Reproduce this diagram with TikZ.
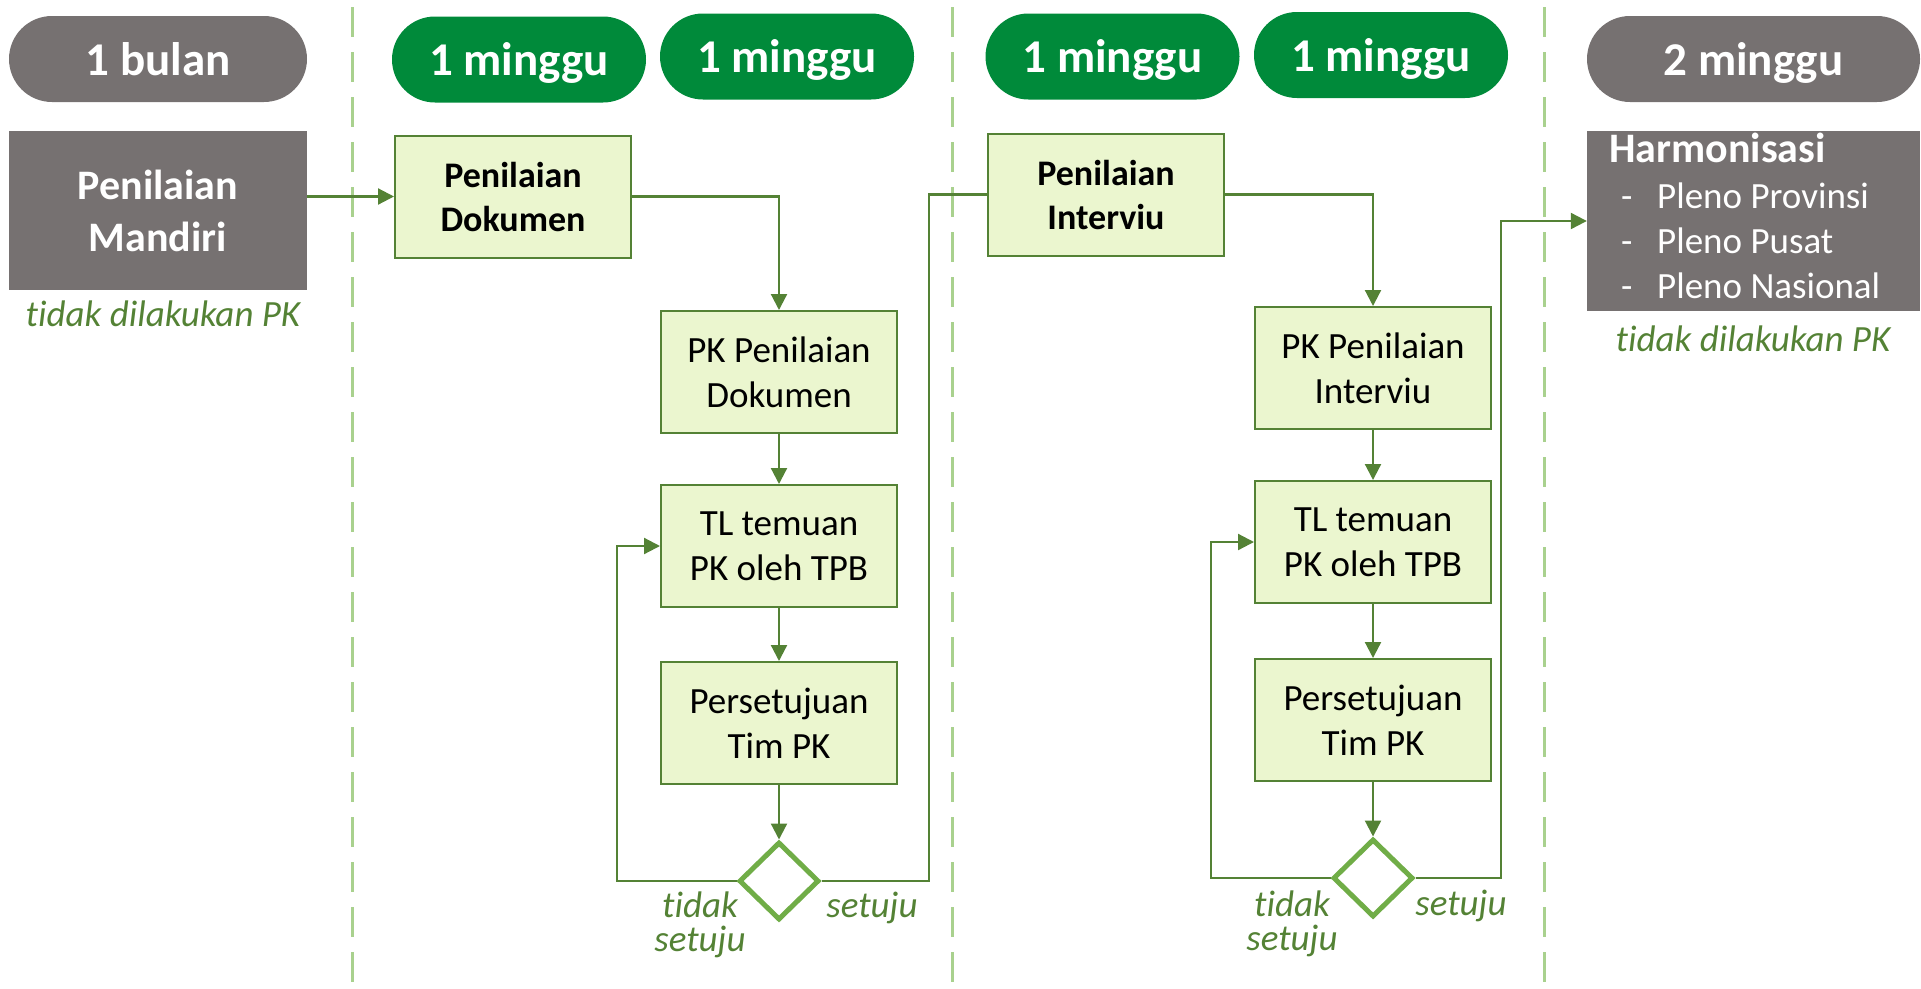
\documentclass[tikz,border=0pt]{standalone}
\usepackage{fontspec}
\setmainfont[Ligatures=NoCommon]{Carlito}
\usetikzlibrary{arrows.meta,shapes.geometric}
\definecolor{grayc}{HTML}{767171}
\definecolor{pillg}{HTML}{008A3A}
\definecolor{fillc}{HTML}{EBF6CF}
\definecolor{bordc}{HTML}{548235}
\definecolor{diac}{HTML}{70AD47}
\definecolor{sepc}{HTML}{A9D18E}
\begin{document}
\begin{tikzpicture}[x=1pt,y=-1pt,
  pill/.style={rounded corners=43pt, minimum height=86pt, inner sep=0pt, text=white, text depth=0pt,
     font=\fontsize{47}{56}\selectfont\bfseries},
  gpill/.style={pill, fill=pillg, minimum width=254pt},
  box/.style={draw=bordc, line width=2pt, fill=fillc, minimum width=236pt, minimum height=122pt,
     align=center, inner sep=0pt, font=\fontsize{37}{45}\selectfont},
  boldbox/.style={box, font=\fontsize{36}{44}\selectfont\bfseries},
  graybox/.style={fill=grayc, inner sep=0pt, text=white},
  dia/.style={diamond, draw=diac, line width=5pt, fill=white, minimum width=80pt, minimum height=78pt, inner sep=0pt},
  conn/.style={draw=bordc, line width=2.2pt},
  arr/.style={conn, -{Triangle[length=16pt,width=16pt]}},
  lab/.style={text=bordc, inner sep=0pt, font=\fontsize{37}{34}\selectfont\itshape},
  sepline/.style={draw=sepc, line width=3pt, dash pattern=on 30pt off 15pt},
  harmitem/.style={anchor=base west, inner sep=0pt, text=white, font=\fontsize{37}{45}\selectfont}
]
\useasboundingbox (0,0) rectangle (1921,988);

% separators
\coordinate (s1t) at (352,7);   \coordinate (s1b) at (352,988);
\coordinate (s2t) at (952,7);   \coordinate (s2b) at (952,988);
\coordinate (s3t) at (1544,7);  \coordinate (s3b) at (1544,988);
\draw[sepline] (s1t) -- (s1b);
\draw[sepline] (s2t) -- (s2b);
\draw[sepline] (s3t) -- (s3b);

% duration pills
\node[pill, fill=grayc, minimum width=298pt] (p0) at (158,59) {1 bulan};
\node[gpill] (p1) at (519,59.5) {1 minggu};
\node[gpill] (p2) at (787,56.5) {1 minggu};
\node[gpill] (p3) at (1112.5,56.5) {1 minggu};
\node[gpill] (p4) at (1381,55) {1 minggu};
\node[pill, fill=grayc, minimum width=333pt] (p5) at (1753.5,59) {2 minggu};

% left column
\node[graybox, minimum width=298pt, minimum height=159pt, align=center,
      font=\fontsize{42}{52}\selectfont\bfseries] (mandiri) at (158,210.5) {Penilaian\\Mandiri};
\node[lab, anchor=base] (tdl1) at (163,326) {tidak dilakukan PK};

% document assessment column
\node[boldbox] (dok) at (513,196.5) {Penilaian\\Dokumen};
\node[box] (pkdok) at (779,372) {PK Penilaian\\Dokumen};
\node[box] (tldok) at (779,546) {TL temuan\\PK oleh TPB};
\node[box] (perdok) at (779,723) {Persetujuan\\Tim PK};
\node[dia] (d1) at (779,881) {};
\node[lab, align=center, anchor=north] (ts1) at (700,892) {tidak\\setuju};
\node[lab, anchor=base] (st1) at (872,917) {setuju};

% interview column
\node[boldbox] (int) at (1106,194.5) {Penilaian\\Interviu};
\node[box] (pkint) at (1373,368) {PK Penilaian\\Interviu};
\node[box] (tlint) at (1373,542) {TL temuan\\PK oleh TPB};
\node[box] (perint) at (1373,720) {Persetujuan\\Tim PK};
\node[dia] (d2) at (1373,878) {};
\node[lab, align=center, anchor=north] (ts2) at (1292,891) {tidak\\setuju};
\node[lab, anchor=base] (st2) at (1461,915) {setuju};

% harmonisasi
\node[graybox, minimum width=333pt, minimum height=180pt] (harm) at (1753.5,221) {};
\node[harmitem, font=\fontsize{42}{50}\selectfont\bfseries] (harmt) at (1609,162) {Harmonisasi};
\node[harmitem] (h1) at (1621,208) {\makebox[36pt][l]{-}Pleno Provinsi};
\node[harmitem] (h2) at (1621,253) {\makebox[36pt][l]{-}Pleno Pusat};
\node[harmitem] (h3) at (1621,298) {\makebox[36pt][l]{-}Pleno Nasional};
\node[lab, anchor=base] (tdl2) at (1753,351) {tidak dilakukan PK};

% connectors
\coordinate (l1) at (617,546);
\coordinate (r1) at (929,194.5);
\coordinate (l2) at (1211,542);
\coordinate (r2) at (1501,221);

\draw[arr] (dok.west -| mandiri.east) -- (dok.west);
\draw[arr] (dok.east) -| (pkdok.north);
\draw[arr] (pkdok.south) -- (tldok.north);
\draw[arr] (tldok.south) -- (perdok.north);
\draw[arr] (perdok.south) -- (d1.north);
\draw[arr] (d1.west) -| (l1) -- (tldok.west);
\draw[conn] (d1.east) -| (r1) -- (int.west);

\draw[arr] (int.east) -| (pkint.north);
\draw[arr] (pkint.south) -- (tlint.north);
\draw[arr] (tlint.south) -- (perint.north);
\draw[arr] (perint.south) -- (d2.north);
\draw[arr] (d2.west) -| (l2) -- (tlint.west);
\draw[arr] (d2.east) -| (r2) -- (harm.west);
\end{tikzpicture}
\end{document}
